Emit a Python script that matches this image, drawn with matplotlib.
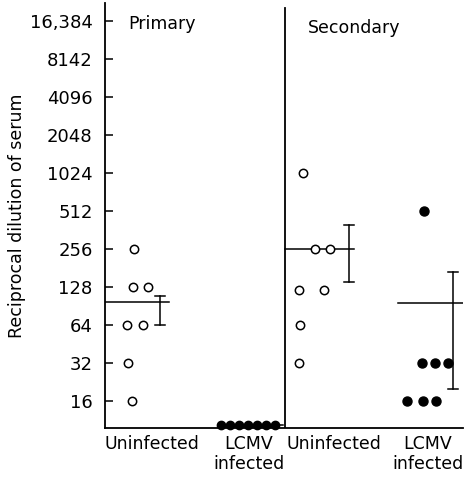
import numpy as np
import matplotlib; matplotlib.use("Agg")
import matplotlib.pyplot as plt
import matplotlib.transforms as mtrans

# titulo (dilucion reciproca) por grupo; x = posicion dentro del panel
pri_uninf_x = [29, 28, 43, 22, 38, 23, 27]
pri_uninf_y = [256, 128, 128, 64, 64, 32, 16]
pri_lcmv_x = [116, 125, 134, 143, 152, 161, 170]
pri_lcmv_y = [10.4] * 7
sec_uninf_x = [198, 210, 225, 194, 219, 195, 194]
sec_uninf_y = [1024, 256, 256, 120, 120, 64, 32]
sec_lcmv_x = [319, 317, 330, 343, 302, 318, 331]
sec_lcmv_y = [512, 32, 32, 32, 16, 16, 16]

# media y rango (media, bajo, alto)
pri_uninf_stat = (97, 64, 108)
sec_uninf_stat = (256, 140, 396)
sec_lcmv_stat = (96, 20, 168)

yticks = [16, 32, 64, 128, 256, 512, 1024, 2048, 4096, 8192, 16384]
ytick_labels = ["16", "32", "64", "128", "256", "512", "1024", "2048", "4096", "8142", "16,384"]
groups = ["Uninfected", "LCMV\ninfected", "Uninfected", "LCMV\ninfected"]
group_x = [47, 144, 229, 323]

W, H = 467, 479
fig = plt.figure(figsize=(W/100, H/100), dpi=100)
ax = fig.add_axes([105/W, (H-428)/H, 358/W, 425/H])
ax.set_yscale("log", base=2)
ax.set_ylim(9.76, 22780)
ax.set_xlim(0, 358)

lw = 1.1
ax.plot(pri_uninf_x, pri_uninf_y, "o", mfc="white", mec="black", mew=1.1, ms=6, clip_on=False)
ax.plot(sec_uninf_x, sec_uninf_y, "o", mfc="white", mec="black", mew=1.1, ms=6, clip_on=False, zorder=4)
ax.plot(pri_lcmv_x, pri_lcmv_y, "o", color="black", ms=6, clip_on=False, zorder=4)
ax.plot(sec_lcmv_x, sec_lcmv_y, "o", color="black", ms=6.5, clip_on=False)
ax.plot([pri_lcmv_x[-1], 178], [pri_lcmv_y[0]] * 2, color="black", lw=lw)


def stat(m, lo, hi, x0, x1, xb):
    ax.plot([x0, x1], [m, m], color="black", lw=lw, zorder=3)
    ax.plot([xb, xb], [lo, hi], color="black", lw=lw)
    for v in (lo, hi):
        ax.plot([xb - 5, xb + 5], [v, v], color="black", lw=lw)


stat(*pri_uninf_stat, 0, 64, 55)
stat(*sec_uninf_stat, 180, 249, 244)
stat(*sec_lcmv_stat, 293, 358, 348)

ax.axvline(180, ymin=0, ymax=(428-8)/425, color="black", lw=1.3)

for s in ["top", "right"]:
    ax.spines[s].set_visible(False)
for s in ["left", "bottom"]:
    ax.spines[s].set_linewidth(1.3)

ax.set_yticks(yticks)
ax.set_yticklabels(ytick_labels)
ax.yaxis.set_minor_locator(plt.NullLocator())
ax.tick_params(axis="y", direction="in", length=6, width=1.1, pad=9, labelsize=13)
ax.set_xticks(group_x)
ax.set_xticklabels(groups, fontsize=12.5, linespacing=1.15)
ax.tick_params(axis="x", length=0, pad=5)

ax.set_ylabel("Reciprocal dilution of serum", fontsize=12.5)
ax.yaxis.set_label_coords(-79/358, 0.5)

ax.text(23, (428-29)/425, "Primary", fontsize=12.5, va="baseline",
        transform=mtrans.blended_transform_factory(ax.transData, ax.transAxes))
ax.text(203, (428-33)/425, "Secondary", fontsize=12.5, va="baseline",
        transform=mtrans.blended_transform_factory(ax.transData, ax.transAxes))

fig.savefig("out.png", dpi=100)
